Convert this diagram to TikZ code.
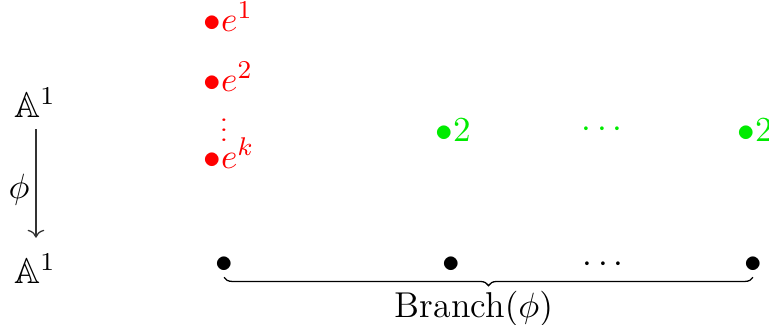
\documentclass[tikz,border=0pt]{standalone}
\usepackage{amssymb}
\usetikzlibrary{decorations.pathreplacing,arrows.meta}
\definecolor{pgreen}{RGB}{0,235,0}
\definecolor{pred}{RGB}{255,0,0}
\begin{document}
\begin{tikzpicture}[x=0.312pt,y=-0.312pt,
  every node/.style={font=\fontsize{11.2}{13}\selectfont},
  lbl/.style={inner sep=0pt},
  redpt/.style={lbl,text=pred,anchor=base west},
  grnpt/.style={lbl,text=pgreen,anchor=base west},
  blkpt/.style={lbl}]
\useasboundingbox (0,0) rectangle (769,325);
% left column
\node[lbl] (Atop) at (35,103) {$\mathbb{A}^1$};
\node[lbl] (Abot) at (35,269) {$\mathbb{A}^1$};
\draw[-{Computer Modern Rightarrow},line width=0.4pt,draw=black!80,shorten <=3.5pt,shorten >=5pt] ([xshift=0.3pt]Atop.south) -- ([xshift=0.3pt]Abot.north);
\node[lbl] (phi) at (19,190) {$\phi$};
% red column
\node[redpt] (e1) at (203,31) {$\bullet e^1$};
\node[redpt] (e2) at (203,91) {$\bullet e^2$};
\node[lbl,text=pred] (vd) at (224,123) {\scalebox{0.9}[0.75]{$\vdots$}};
\node[redpt] (ek) at (203,168) {$\bullet e^k$};
% green row
\node[grnpt] (g1) at (435,141) {$\bullet 2$};
\node[lbl,text=pgreen] (gd) at (602,130) {$\cdots$};
\node[grnpt] (g2) at (737,141) {$\bullet 2$};
% bottom row
\node[blkpt] (b1) at (224,265) {$\bullet$};
\node[blkpt] (b2) at (451,265) {$\bullet$};
\node[lbl] (bd) at (603,265) {$\cdots$};
\node[blkpt] (b3) at (753,265) {$\bullet$};
\draw[decorate,decoration={brace,mirror,amplitude=2.6pt},line width=0.4pt]
  ([yshift=-1.2pt]b1.south) -- ([yshift=-1.2pt]b3.south);
\node[lbl] (br) at (474,309) {Branch$(\phi)$};
\end{tikzpicture}
\end{document}
